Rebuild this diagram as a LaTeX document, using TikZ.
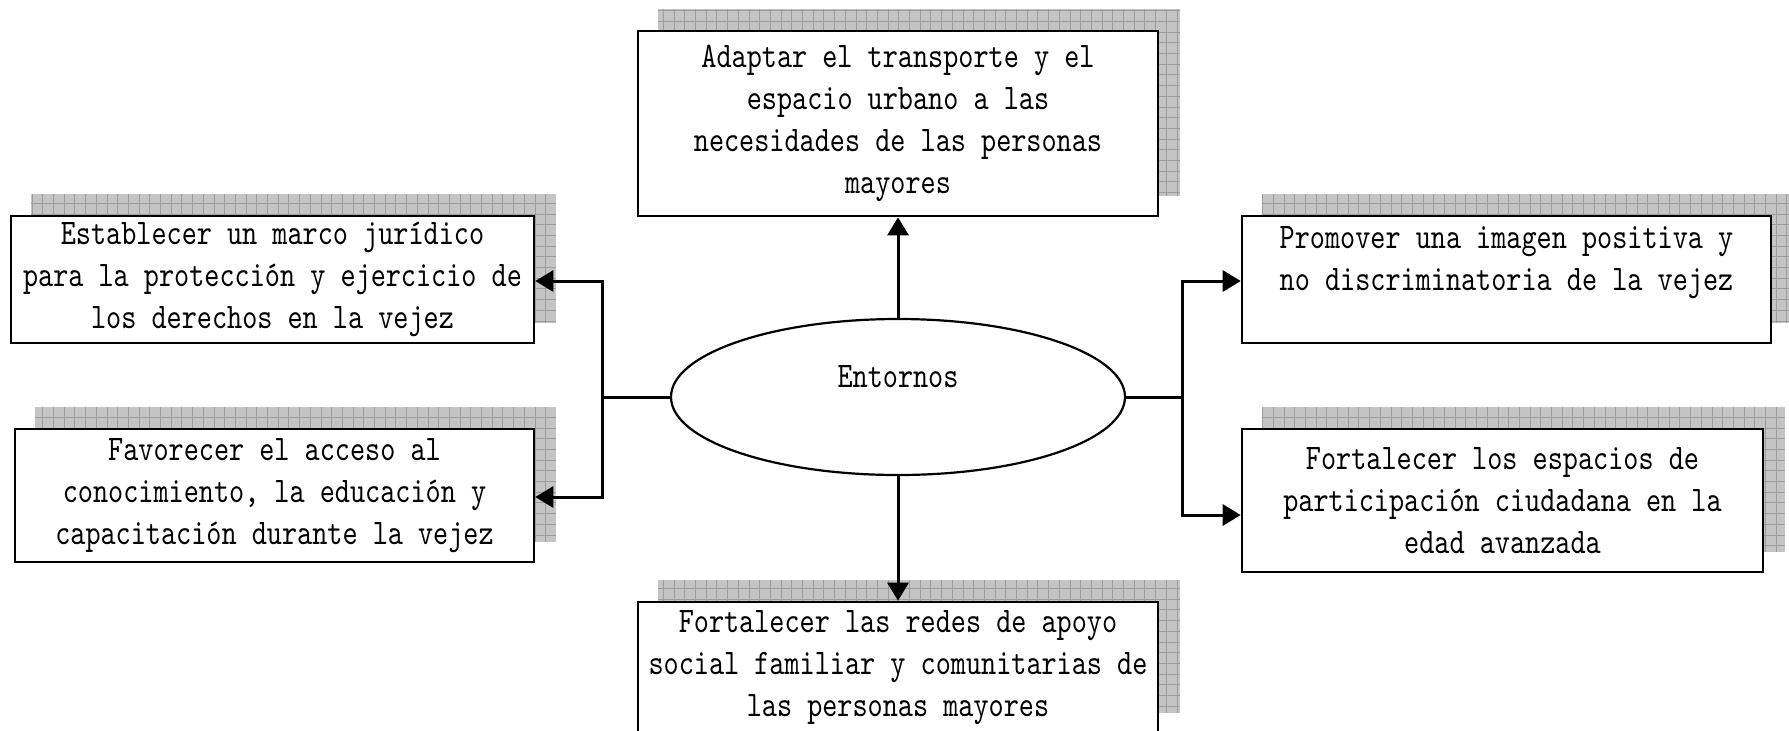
\documentclass[tikz,border=0pt]{standalone}
\usepackage{fontspec}
\newfontfamily\cf[FakeStretch=0.8]{lmmono10-regular.otf}
\usetikzlibrary{arrows.meta,shapes.geometric,backgrounds}
\definecolor{shadowgray}{HTML}{C4C4C4}
\definecolor{gridgray}{HTML}{9C9C9C}
\tikzset{
  box/.style={draw, line width=1.3pt, fill=white, rectangle, inner sep=0pt,
    align=center, font=\cf\fontsize{18pt}{21pt}\selectfont},
  oval/.style={draw, line width=1.1pt, fill=white, ellipse, inner sep=0pt,
    minimum width=227pt, minimum height=78pt, align=center,
    font=\cf\fontsize{18pt}{21pt}\selectfont},
  conn/.style={line width=1.5pt, line join=miter},
  arr/.style={conn, -{Triangle[length=9pt,width=10.5pt]}},
}
\newcommand\dropshadow[1]{%
  \begin{scope}
    \clip ([shift={(21,-21)}]#1.south west) rectangle ([shift={(21,-21)}]#1.north east);
    \fill[shadowgray] ([shift={(21,-21)}]#1.south west) rectangle ([shift={(21,-21)}]#1.north east);
    \draw[gridgray, line width=0.5pt, step=5.35pt] ([shift={(21,-21)}]#1.south west) grid ([shift={(21,-21)}]#1.north east);
  \end{scope}}
\begin{document}
\begin{tikzpicture}[x=0.5pt, y=-0.5pt]
\useasboundingbox (0,0) rectangle (1789,730);

\node[box, minimum width=260pt, minimum height=92.5pt] (top) at (898,123.5)
  {Adaptar el transporte y el\\espacio urbano a las\\necesidades de las personas\\mayores};
\node[box, minimum width=261.5pt, minimum height=63.5pt] (lt) at (272.5,279.5)
  {Establecer un marco jurídico\\para la protección y ejercicio de\\los derechos en la vejez};
\node[box, minimum width=259.5pt, minimum height=66.5pt] (lb) at (274.5,495.5)
  {Favorecer el acceso al\\conocimiento, la educación y\\capacitación durante la vejez};
\node[box, minimum width=264.5pt, minimum height=63.5pt] (rt) at (1506.5,279.5)
  {Promover una imagen positiva y\\no discriminatoria de la vejez\\\mbox{}};
\node[box, minimum width=260.5pt, minimum height=71.5pt] (rb) at (1502.5,500.5)
  {Fortalecer los espacios de\\participación ciudadana en la\\edad avanzada};
\node[box, minimum width=260pt, minimum height=65.5pt] (bot) at (898,667.5)
  {Fortalecer las redes de apoyo\\social familiar y comunitarias de\\las personas mayores};

\node[oval] (ent) at (898,397) {Entornos\\\mbox{}};

\begin{pgfonlayer}{background}
  \dropshadow{top}
  \dropshadow{lt}
  \dropshadow{lb}
  \dropshadow{rt}
  \dropshadow{rb}
  \dropshadow{bot}
\end{pgfonlayer}

\coordinate (jl) at (602,397);
\coordinate (jlt) at (602,281);
\coordinate (jlb) at (602,497);
\coordinate (jr) at (1182,397);
\coordinate (jrt) at (1182,281);
\coordinate (jrb) at (1182,515);

\draw[conn] (ent.west) -- (jl);
\draw[arr] (jl) -- (jlt) -- (lt.east |- jlt);
\draw[arr] (jl) -- (jlb) -- (lb.east |- jlb);
\draw[conn] (ent.east) -- (jr);
\draw[arr] (jr) -- (jrt) -- (rt.west |- jrt);
\draw[arr] (jr) -- (jrb) -- (rb.west |- jrb);
\draw[arr] (ent.north) -- (top.south);
\draw[arr] (ent.south) -- (bot.north);
\end{tikzpicture}
\end{document}
